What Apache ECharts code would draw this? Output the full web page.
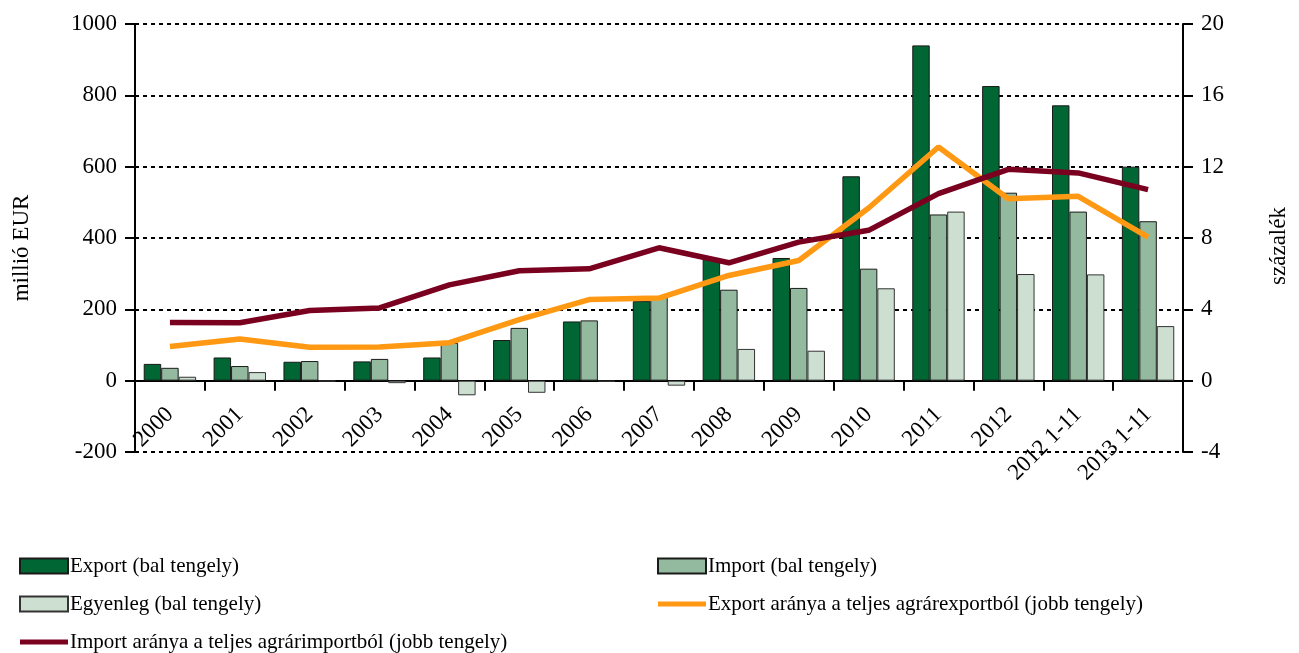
<!DOCTYPE html>
<html>
<head>
<meta charset="utf-8">
<script src="https://cdn.jsdelivr.net/npm/echarts@6/dist/echarts.min.js"></script>
<style>
html,body{margin:0;padding:0;background:#fff;}
#chart{width:1299px;height:653px;}
</style>
</head>
<body>
<div id="chart"></div>
<script>
const categories = ['2000','2001','2002','2003','2004','2005','2006','2007','2008','2009','2010','2011','2012','2012 1-11','2013 1-11'];
const exportVals = [47, 65, 53, 54, 65, 114, 166, 223, 344, 344, 573, 940, 826, 772, 600];
const importVals = [36, 41, 55, 61, 106, 148, 169, 237, 255, 260, 314, 466, 527, 474, 447];
const balanceVals = [11, 24, -2, -7, -41, -34, -3, -14, 89, 84, 259, 474, 299, 298, 153];
const exportShare = [1.91, 2.34, 1.87, 1.89, 2.13, 3.42, 4.55, 4.63, 5.9, 6.74, 9.68, 13.1, 10.2, 10.34, 8.05];
const importShare = [3.26, 3.25, 3.93, 4.08, 5.37, 6.16, 6.27, 7.45, 6.61, 7.77, 8.43, 10.49, 11.85, 11.65, 10.71];
const leftTicks = {min: -200, max: 1000, interval: 200};
const rightTicks = {min: -4, max: 20, interval: 4};

const FONT = '"Liberation Serif", "Times New Roman", serif';
const chart = echarts.init(document.getElementById('chart'));
const textStyle = {fontFamily: FONT, fontSize: 23, color: '#000'};
const lineIcon = 'path://M0,0 L48,0 L48,5 L0,5 Z';
const legendCommon = {
  orient: 'vertical',
  top: 550,
  height: 110,
  itemWidth: 48,
  itemHeight: 15,
  itemGap: 16,
  textStyle: {fontFamily: FONT, fontSize: 21, color: '#000', lineHeight: 22, padding: [0,0,0,-3]},
  selectedMode: false
};
chart.setOption({
  animation: false,
  backgroundColor: '#fff',
  grid: {left: 135, right: 116, top: 24, bottom: 201},
  legend: [
    Object.assign({}, legendCommon, {left: 14, data: [
      {name: 'Export (bal tengely)', icon: 'rect'},
      {name: 'Egyenleg (bal tengely)', icon: 'rect'},
      {name: 'Import aránya a teljes agrárimportból (jobb tengely)', icon: lineIcon, itemStyle: {borderWidth: 0}}
    ]}),
    Object.assign({}, legendCommon, {left: 652, data: [
      {name: 'Import (bal tengely)', icon: 'rect'},
      {name: 'Export aránya a teljes agrárexportból (jobb tengely)', icon: lineIcon, itemStyle: {borderWidth: 0}}
    ]})
  ],
  xAxis: {
    type: 'category',
    data: categories,
    axisLine: {onZero: true, lineStyle: {color: '#000', width: 2}},
    axisTick: {show: true, inside: false, length: 10, lineStyle: {color: '#000', width: 2}},
    axisLabel: Object.assign({}, textStyle, {rotate: 45, margin: -41, interval: 0})
  },
  yAxis: [
    {
      type: 'value', min: leftTicks.min, max: leftTicks.max, interval: leftTicks.interval,
      name: 'millió EUR', nameLocation: 'middle', nameGap: 102, nameRotate: 90,
      nameTextStyle: Object.assign({}, textStyle, {padding: [0, 20, 0, 0]}),
      axisLine: {show: true, lineStyle: {color: '#000', width: 2}},
      axisTick: {show: true, length: 10, lineStyle: {color: '#000', width: 2}},
      axisLabel: Object.assign({}, textStyle, {margin: 18, formatter: v => String(v)}),
      splitLine: {show: true, lineStyle: {color: '#000', width: 2, type: [4, 4]}}
    },
    {
      type: 'value', min: rightTicks.min, max: rightTicks.max, interval: rightTicks.interval,
      position: 'right',
      name: 'százalék', nameLocation: 'middle', nameGap: 84, nameRotate: 90,
      nameTextStyle: Object.assign({}, textStyle, {padding: [0, 16, 0, 0]}),
      axisLine: {show: true, lineStyle: {color: '#000', width: 2}},
      axisTick: {show: true, length: 10, lineStyle: {color: '#000', width: 2}},
      axisLabel: Object.assign({}, textStyle, {margin: 18, formatter: v => String(v)}),
      splitLine: {show: false}
    }
  ],
  series: [
    {name: 'Export (bal tengely)', type: 'bar', data: exportVals, barGap: '0%', barCategoryGap: '25%',
     itemStyle: {color: '#006633', borderColor: '#1a1a1a', borderWidth: 1}},
    {name: 'Import (bal tengely)', type: 'bar', data: importVals, barGap: '0%', barCategoryGap: '25%',
     itemStyle: {color: '#93BA9E', borderColor: '#1a1a1a', borderWidth: 1}},
    {name: 'Egyenleg (bal tengely)', type: 'bar', data: balanceVals, barGap: '0%', barCategoryGap: '25%',
     itemStyle: {color: '#CDDFD1', borderColor: '#333', borderWidth: 1}},
    {name: 'Export aránya a teljes agrárexportból (jobb tengely)', type: 'line', yAxisIndex: 1, data: exportShare,
     symbol: 'none', z: 5, lineStyle: {color: '#FF9914', width: 5.5}, itemStyle: {color: '#FF9914'}},
    {name: 'Import aránya a teljes agrárimportból (jobb tengely)', type: 'line', yAxisIndex: 1, data: importShare,
     symbol: 'none', z: 5, lineStyle: {color: '#7A0020', width: 5.5}, itemStyle: {color: '#7A0020'}}
  ]
});
</script>
</body>
</html>
